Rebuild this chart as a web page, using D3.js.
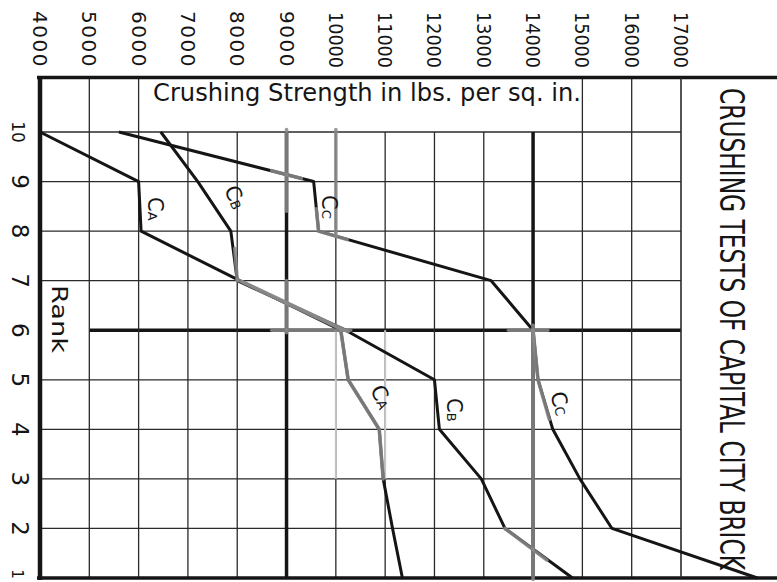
<!DOCTYPE html>
<html>
<head>
<meta charset="utf-8">
<script src="https://cdn.jsdelivr.net/npm/d3@7"></script>
<style>
  html, body { margin: 0; padding: 0; background: #fff; }
  svg { display: block; }
</style>
</head>
<body>
<svg id="chart" width="777" height="582"></svg>
<script>
// ---- data ----
const ranks = [10, 9, 8, 7, 6, 5, 4, 3, 2, 1];
const seriesA = [4000, 6000, 6050, 8050, 10100, 10250, 10880, 10960, 11150, 11350];
const seriesB = [6450, 7200, 7870, 8000, 10200, 12000, 12100, 12950, 13430, 14800];
const seriesC = [5600, 9550, 9650, 13150, 14000, 14100, 14400, 14950, 15600, 18550];
const seriesNames = ["A", "B", "C"];
const strengthTicks = [4000, 5000, 6000, 7000, 8000, 9000, 10000, 11000, 12000, 13000, 14000, 15000, 16000, 17000];
const rankTicks = [1, 2, 3, 4, 5, 6, 7, 8, 9, 10];
const title = "CRUSHING TESTS OF CAPITAL CITY BRICK";
const xTitle = "Crushing Strength in lbs. per sq. in.";
const yTitle = "Rank";
// grey (pencil) over-marks, as [strength, rank] points
const greyMarks = [
  [[9000, 10.05], [9000, 8.4]],
  [[10000, 10.05], [10000, 7.9]],
  [[8700, 9.22], [9300, 9.06]],
  [[9605, 8.45], [9650, 8], [10230, 7.83]],
  [[7950, 7.65], [8000, 7]],
  [[8000, 7.02], [10150, 6.0]],
  [[8100, 6.98], [10250, 5.97]],
  [[9000, 7], [9000, 5.95]],
  [[8700, 6], [10300, 6]],
  [[13500, 6], [14300, 6]],
  [[10100, 6], [10250, 5], [10880, 4], [10960, 3]],
  [[14000, 6.1], [14000, 0.97]],
  [[14000, 6], [14100, 5], [14330, 4.2]],
  [[13430, 2], [14280, 1.36]]
];
const lightMarks = [
  [[10000, 6], [11000, 3]]
];

// ---- scales ----
const x = d3.scaleLinear().domain([4000, 17000]).range([40, 681]);
const y = d3.scaleLinear().domain([1, 10]).range([578, 132]);
const yTop = y(11.1);

const svg = d3.select("#chart");
const ink = "#151515";

// ---- grid ----
const g = svg.append("g");
rankTicks.forEach(r => {
  if (r === 1) return;
  const thick = r === 6;
  g.append("line")
    .attr("x1", thick ? x(5000) : x(4000)).attr("x2", x(17000))
    .attr("y1", y(r)).attr("y2", y(r))
    .attr("stroke", thick ? ink : "#2a2a2a")
    .attr("stroke-width", thick ? 3.5 : 1.3);
});
strengthTicks.forEach(s => {
  if (s === 4000 || s === 17000) return;
  const thick = s === 9000 || s === 14000;
  const full = [5000, 6000, 15000, 16000].includes(s);
  g.append("line")
    .attr("x1", x(s)).attr("x2", x(s))
    .attr("y1", full ? yTop : y(10)).attr("y2", y(1))
    .attr("stroke", thick ? ink : "#2a2a2a")
    .attr("stroke-width", thick ? 3.5 : 1.3);
});
lightMarks.forEach(m => {
  [m[0][0], m[1][0]].forEach(s => {
    g.append("line")
      .attr("x1", x(s)).attr("x2", x(s))
      .attr("y1", y(m[0][1])).attr("y2", y(m[1][1]))
      .attr("stroke", "#c4c4c4").attr("stroke-width", 2);
  });
});
g.append("line").attr("x1", 37).attr("x2", 777).attr("y1", yTop).attr("y2", yTop)
  .attr("stroke", ink).attr("stroke-width", 3.5);
g.append("line").attr("x1", 37).attr("x2", 777).attr("y1", y(1)).attr("y2", y(1))
  .attr("stroke", ink).attr("stroke-width", 3.5);
g.append("line").attr("x1", x(4000)).attr("x2", x(4000)).attr("y1", yTop).attr("y2", y(1) + 2)
  .attr("stroke", ink).attr("stroke-width", 4.5);
g.append("line").attr("x1", x(17000)).attr("x2", x(17000)).attr("y1", yTop).attr("y2", y(1))
  .attr("stroke", "#2a2a2a").attr("stroke-width", 1.6);

// ---- title (drawn before the lines, as in the reference) ----
svg.append("text")
  .attr("transform", `translate(720,88) rotate(90)`)
  .attr("font-family", "'Liberation Sans Narrow', 'DejaVu Sans Condensed', 'Liberation Sans', sans-serif")
  .attr("font-size", 33)
  .attr("textLength", 482).attr("lengthAdjust", "spacingAndGlyphs")
  .attr("fill", ink)
  .text(title);

// ---- series lines ----
const line = d3.line().x(d => x(d[0])).y(d => y(d[1]));
[seriesA, seriesB, seriesC].forEach(vals => {
  svg.append("path")
    .datum(vals.map((v, i) => [v, ranks[i]]))
    .attr("d", line)
    .attr("fill", "none")
    .attr("stroke", ink)
    .attr("stroke-width", 3)
    .attr("stroke-linejoin", "round");
});

// ---- grey over-marks ----
greyMarks.forEach(m => {
  svg.append("path")
    .datum(m)
    .attr("d", line)
    .attr("fill", "none")
    .attr("stroke", "#8a8a8a")
    .attr("stroke-width", 3.6)
    .attr("stroke-opacity", 0.85)
    .attr("stroke-linecap", "round");
});

// ---- tick labels ----
const font = "'DejaVu Sans', 'Liberation Sans', sans-serif";
strengthTicks.forEach(s => {
  const label = String(s);
  const t = svg.append("text")
    .attr("transform", `translate(${x(s) - 7},68) rotate(90)`)
    .attr("text-anchor", "end")
    .attr("font-family", font)
    .attr("font-size", 20)
    .attr("fill", ink)
    .text(label);
  if (label.length === 5) t.attr("textLength", 56).attr("lengthAdjust", "spacingAndGlyphs");
  else t.attr("letter-spacing", 1.5);
});
rankTicks.forEach(r => {
  svg.append("text")
    .attr("transform", `translate(12,${r === 1 ? y(r) - 4 : y(r)}) rotate(90)`)
    .attr("text-anchor", "middle")
    .attr("font-family", font)
    .attr("font-size", r === 10 ? 17 : (r === 1 ? 15 : 23))
    .attr("fill", ink)
    .text(r);
});

// ---- axis titles ----
svg.append("text")
  .attr("x", 153).attr("y", 101)
  .attr("font-family", font)
  .attr("font-size", 25)
  .attr("textLength", 428).attr("lengthAdjust", "spacingAndGlyphs")
  .attr("fill", ink)
  .text(xTitle);
svg.append("text")
  .attr("transform", `translate(52,285) rotate(90)`)
  .attr("font-family", font)
  .attr("font-size", 21)
  .attr("textLength", 68).attr("lengthAdjust", "spacingAndGlyphs")
  .attr("fill", ink)
  .text(yTitle);

// ---- series labels (C_A, C_B, C_C, each written twice) ----
const labelSpots = [
  { s: 0, px: 148, py: 197, a: 90 },
  { s: 1, px: 224, py: 189, a: 68 },
  { s: 2, px: 322, py: 195, a: 90 },
  { s: 0, px: 370, py: 389, a: 66 },
  { s: 1, px: 447, py: 398, a: 90 },
  { s: 2, px: 550, py: 394, a: 74 }
];
labelSpots.forEach(l => {
  const t = svg.append("text")
    .attr("transform", `translate(${l.px},${l.py}) rotate(${l.a})`)
    .attr("font-family", font)
    .attr("fill", ink);
  t.append("tspan").attr("font-size", 21).text("C");
  t.append("tspan").attr("font-size", 13).text(seriesNames[l.s]);
});
</script>
</body>
</html>
